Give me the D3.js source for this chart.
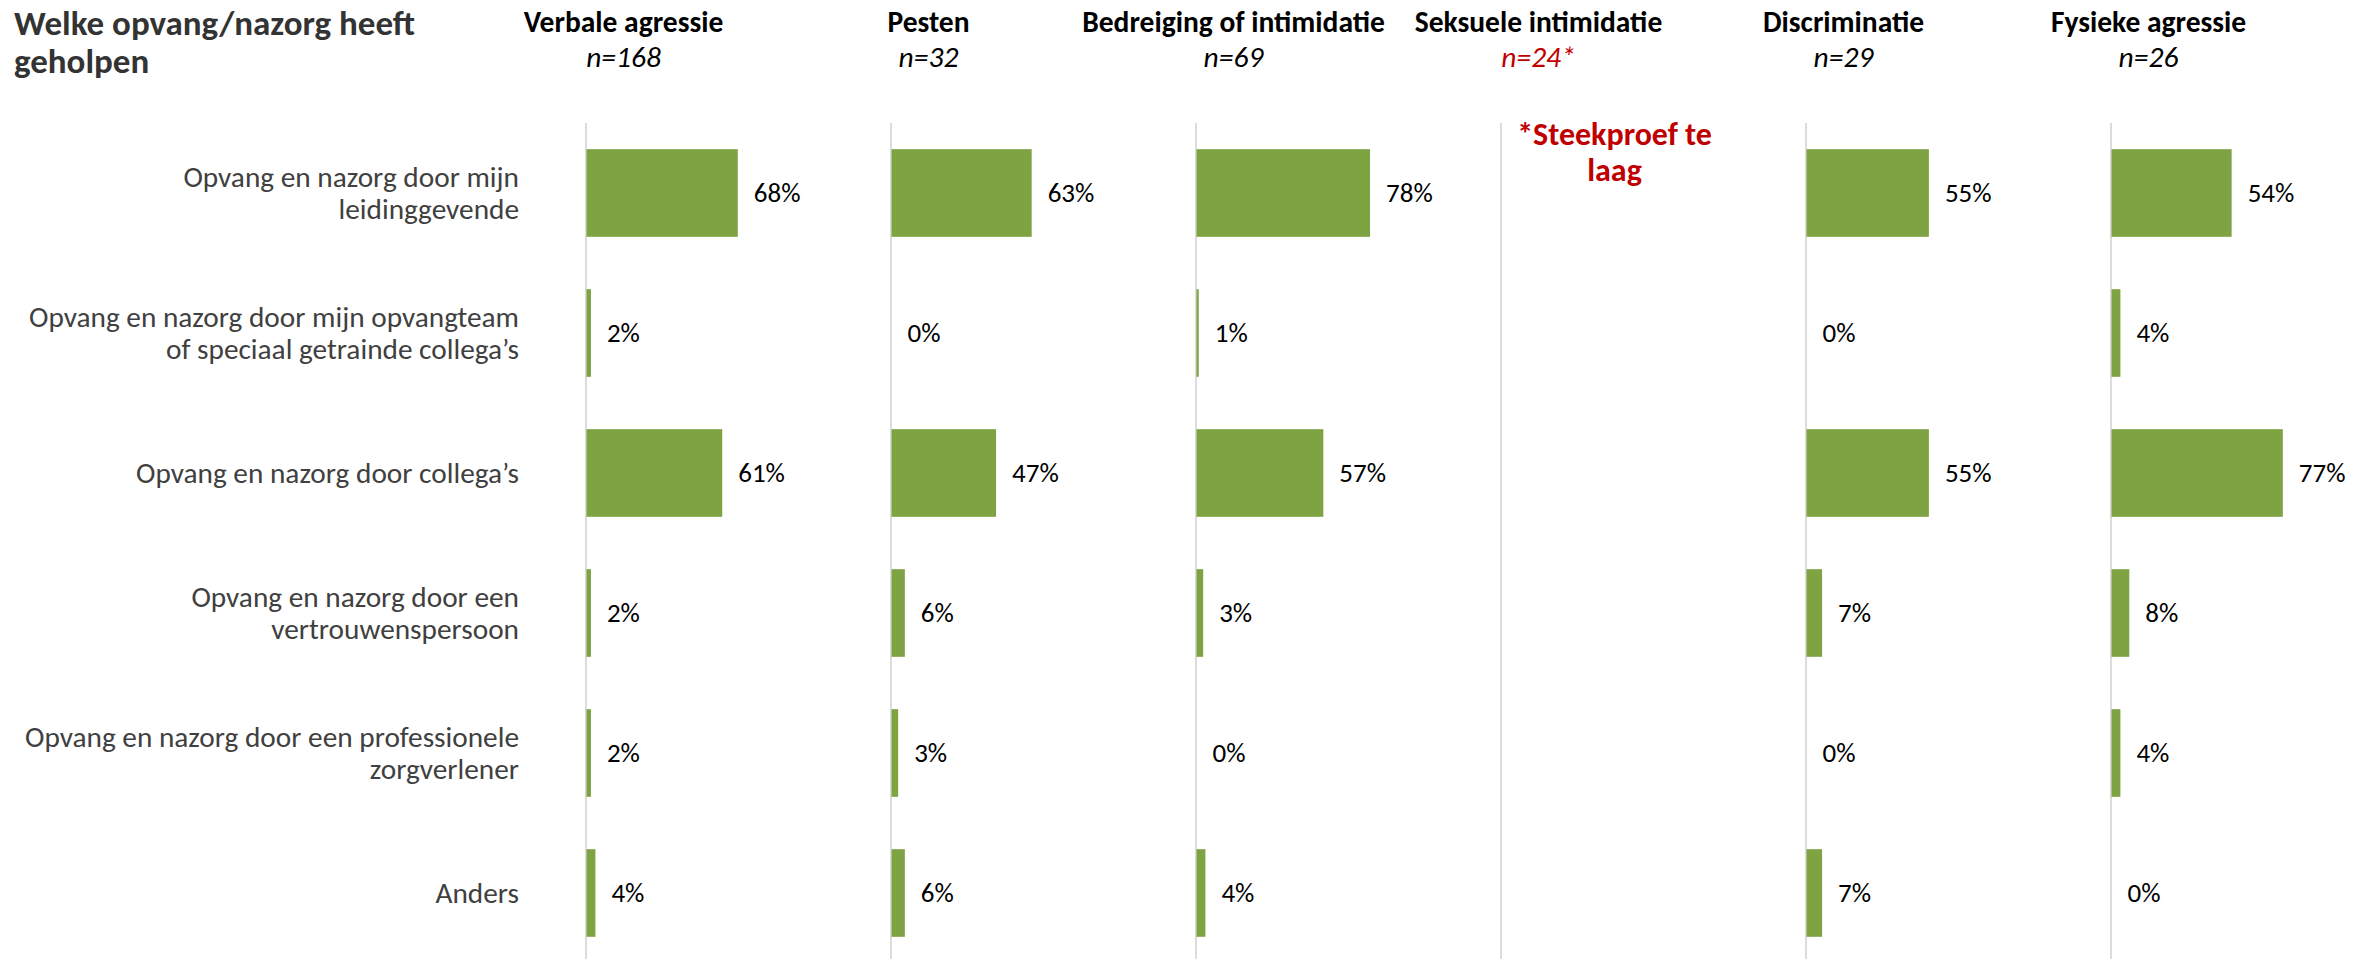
<!DOCTYPE html>
<html>
<head>
<meta charset="utf-8">
<script src="https://cdn.jsdelivr.net/npm/d3@7"></script>
<style>
  body { margin: 0; background: #fff; }
  svg { display: block; font-family: Carlito, Calibri, Lato, "Open Sans", sans-serif; }
</style>
</head>
<body>
<div id="container"></div>
<script>
/* DATA */
const categories = [
  "Opvang en nazorg door mijn leidinggevende",
  "Opvang en nazorg door mijn opvangteam of speciaal getrainde collega’s",
  "Opvang en nazorg door collega’s",
  "Opvang en nazorg door een vertrouwenspersoon",
  "Opvang en nazorg door een professionele zorgverlener",
  "Anders"
];
const groups = ["Verbale agressie", "Pesten", "Bedreiging of intimidatie", "Seksuele intimidatie", "Discriminatie", "Fysieke agressie"];
const sampleSizes = ["n=168", "n=32", "n=69", "n=24*", "n=29", "n=26"];
const verbaleAgressie = [0.68, 0.02, 0.61, 0.02, 0.02, 0.04];
const pesten = [0.63, 0.00, 0.47, 0.06, 0.03, 0.06];
const bedreiging = [0.78, 0.01, 0.57, 0.03, 0.00, 0.04];
const seksueleIntimidatie = null; // sample too small, not shown
const discriminatie = [0.55, 0.00, 0.55, 0.07, 0.00, 0.07];
const fysiekeAgressie = [0.54, 0.04, 0.77, 0.08, 0.04, 0.00];
const seriesValues = [verbaleAgressie, pesten, bedreiging, seksueleIntimidatie, discriminatie, fysiekeAgressie];
const title = ["Welke opvang/nazorg heeft", "geholpen"];
const lowSampleNote = ["*Steekproef te", "laag"];

/* CONSTANTS AND GLOBALS */
const width = 2371, height = 959;
const panelStart = 585.5, panelStep = 305;
const green = "#7ea343", red = "#c00000";

const svg = d3.select("#container").append("svg")
  .attr("width", width)
  .attr("height", height);

// SCALES
const panel = d3.scaleBand()
  .domain(groups)
  .range([panelStart, panelStart + panelStep * groups.length]);

const y = d3.scaleBand()
  .domain(categories)
  .range([123, 963])
  .paddingInner(0.374)
  .paddingOuter(0.187);

const x = d3.scaleLinear().domain([0, 1]).range([0, 222.5]);
const pct = d3.format(".0%");

/* TITLE */
svg.append("text")
  .attr("x", 14)
  .attr("y", 35)
  .style("font-size", "35px")
  .style("font-weight", "bold")
  .style("fill", "#333")
  .selectAll("tspan")
  .data(title)
  .join("tspan")
    .attr("x", 14)
    .attr("dy", (d, i) => i ? 38 : 0)
    .text(d => d);

/* CATEGORY LABELS (wrapped, right aligned) */
const catLabels = svg.append("g")
  .selectAll("text")
  .data(categories)
  .join("text")
    .attr("text-anchor", "end")
    .style("font-size", "29.3px")
    .style("fill", "#404040");

catLabels.each(function(d) {
  const t = d3.select(this);
  const words = d.split(" ");
  const lines = [];
  let line = [];
  const probe = t.append("tspan");
  words.forEach(w => {
    line.push(w);
    probe.text(line.join(" "));
    if (probe.node().getComputedTextLength() > 508 && line.length > 1) {
      line.pop();
      lines.push(line.join(" "));
      line = [w];
    }
  });
  lines.push(line.join(" "));
  probe.remove();
  const lh = 32;
  const cy = y(d) + y.bandwidth() / 2;
  t.selectAll("tspan")
    .data(lines)
    .join("tspan")
      .attr("x", 519)
      .attr("y", (l, i) => cy + (i - (lines.length - 1) / 2) * lh)
      .attr("dy", "0.35em")
      .text(l => l);
});

/* PANELS */
const panels = svg.selectAll(".panel")
  .data(groups.map((g, i) => ({ group: g, n: sampleSizes[i], values: seriesValues[i] })))
  .join("g")
    .attr("class", "panel")
    .attr("transform", d => "translate(" + panel(d.group) + ",0)");

// header
panels.append("text")
  .attr("x", 38)
  .attr("y", 32)
  .attr("text-anchor", "middle")
  .style("font-size", "29.5px")
  .style("font-weight", "bold")
  .style("fill", "#000")
  .text(d => d.group);

panels.append("text")
  .attr("x", 38)
  .attr("y", 67)
  .attr("text-anchor", "middle")
  .style("font-size", "29.5px")
  .style("font-style", "italic")
  .style("fill", d => d.values ? "#000" : red)
  .text(d => d.n);

// axis line
panels.append("line")
  .attr("x1", 0.5).attr("x2", 0.5)
  .attr("y1", 123).attr("y2", height)
  .attr("stroke", "#d0d0d0")
  .attr("stroke-width", 1.5);

// bars
panels.filter(d => d.values).each(function(d) {
  const g = d3.select(this);
  const rows = categories.map((c, i) => ({ cat: c, v: d.values[i] }));

  g.selectAll("rect")
    .data(rows)
    .join("rect")
      .attr("x", 1)
      .attr("y", r => y(r.cat))
      .attr("width", r => x(r.v))
      .attr("height", y.bandwidth())
      .attr("fill", green);

  g.selectAll(".value")
    .data(rows)
    .join("text")
      .attr("class", "value")
      .attr("x", r => 1 + x(r.v) + 16)
      .attr("y", r => y(r.cat) + y.bandwidth() / 2)
      .attr("dy", "0.35em")
      .style("font-size", "27px")
      .style("fill", "#000")
      .text(r => pct(r.v));
});

// note for the panel without data
panels.filter(d => !d.values)
  .append("text")
  .attr("text-anchor", "middle")
  .style("font-size", "32px")
  .style("font-weight", "bold")
  .style("fill", red)
  .selectAll("tspan")
  .data(lowSampleNote)
  .join("tspan")
    .attr("x", 114)
    .attr("y", (d, i) => 145 + i * 36)
    .text(d => d);
</script>
</body>
</html>
